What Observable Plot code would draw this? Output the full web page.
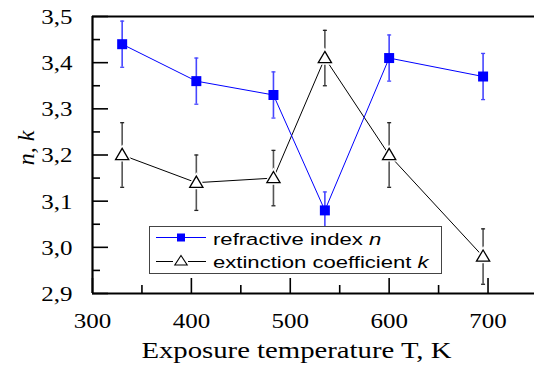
<!DOCTYPE html>
<html><head><meta charset="utf-8">
<script src="https://cdn.jsdelivr.net/npm/d3@7"></script>
<script src="https://cdn.jsdelivr.net/npm/@observablehq/plot@0.6"></script>
<style>
body{margin:0;background:#fff;}
#wrap{position:relative;width:534px;height:365px;overflow:hidden;}
#legend{position:absolute;left:0;top:0;pointer-events:none;}
</style></head><body>
<div id="wrap"></div>
<script>
// ---- data ----
const temperature = [330, 405, 483, 535, 600, 695];
const nValues = [3.44, 3.36, 3.33, 3.08, 3.41, 3.37];
const nErrors = [0.05, 0.05, 0.05, 0.04, 0.05, 0.05];
const kValues = [3.20, 3.14, 3.15, 3.41, 3.20, 2.98];
const kErrors = [0.07, 0.06, 0.06, 0.06, 0.07, 0.06];
const xTickValues = [300, 400, 500, 600, 700];
const xMinorTicks = [350, 450, 550, 650];
const yTickValues = [2.9, 3.0, 3.1, 3.2, 3.3, 3.4, 3.5];
const yMinorTicks = [2.95, 3.05, 3.15, 3.25, 3.35, 3.45];
const xLabel = "Exposure temperature T, K";
const yLabel = "n, k";
const legendLabels = [["refractive index ", "n"], ["extinction coefficient ", "k"]];

const nData = temperature.map((t, i) => ({t, v: nValues[i], e: nErrors[i]}));
const kData = temperature.map((t, i) => ({t, v: kValues[i], e: kErrors[i]}));

// ---- layout ----
const W = 534, H = 365, mL = 92, mT = 16, mB = 72, mR = 0;
const frameW = W - mL - mR, frameH = H - mT - mB;
const SX = 1.25; // horizontal text stretch seen in the reference

const squareSym = {draw(ctx) { ctx.rect(-5, -5, 10, 10); }};
const triSym = {draw(ctx) { ctx.moveTo(0, -6.6); ctx.lineTo(6.6, 4.6); ctx.lineTo(-6.6, 4.6); ctx.closePath(); }};
const capSym = {draw(ctx) { ctx.moveTo(-2, 0); ctx.lineTo(2, 0); }};

const blue = "#0000ff", blueErr = "#4646ff", grayErr = "#555555";

const svg = Plot.plot({
  width: W, height: H,
  marginLeft: mL, marginTop: mT, marginBottom: mB, marginRight: mR,
  style: {fontFamily: "'Liberation Serif', 'Times New Roman', serif", fontSize: "20px", color: "#000", background: "#fff"},
  x: {domain: [300, 747], label: null},
  y: {domain: [2.9, 3.5], label: null},
  marks: [
    // ticks (inward)
    Plot.tickX(xTickValues, {x: d => d, insetTop: frameH - 15, strokeWidth: 1.6, stroke: "#000"}),
    Plot.tickX(xMinorTicks, {x: d => d, insetTop: frameH - 8, strokeWidth: 1.6, stroke: "#000"}),
    Plot.tickY(yTickValues, {y: d => d, insetRight: frameW - 16, strokeWidth: 1.6, stroke: "#000"}),
    Plot.tickY(yMinorTicks, {y: d => d, insetRight: frameW - 8, strokeWidth: 1.6, stroke: "#000"}),
    // frame
    Plot.ruleX([300], {strokeWidth: 2.2, stroke: "#000"}),
    Plot.ruleY([2.9, 3.5], {strokeWidth: 2.2, stroke: "#000"}),
    // axes labels
    Plot.axisX({ticks: xTickValues, tickSize: 0, tickPadding: 20, tickFormat: d => String(d), label: null}),
    Plot.axisY({ticks: yTickValues, tickSize: 0, tickPadding: 20, dy: 1, tickFormat: d => d.toFixed(1).replace(".", ","), label: null}),
    Plot.text([xLabel], {frameAnchor: "bottom", lineAnchor: "bottom", dy: 64, dx: -17, fontSize: 23}),
    // error bars
    Plot.ruleX(kData, {x: "t", y1: d => d.v - d.e, y2: d => d.v + d.e, stroke: grayErr, strokeWidth: 1.6}),
    Plot.dot(kData, {x: "t", y: d => d.v - d.e, symbol: capSym, r: 3, stroke: "#222", fill: "none", strokeWidth: 1.3}),
    Plot.dot(kData, {x: "t", y: d => d.v + d.e, symbol: capSym, r: 3, stroke: "#222", fill: "none", strokeWidth: 1.3}),
    Plot.ruleX(nData, {x: "t", y1: d => d.v - d.e, y2: d => d.v + d.e, stroke: blueErr, strokeWidth: 1.6}),
    Plot.dot(nData, {x: "t", y: d => d.v - d.e, symbol: capSym, r: 3, stroke: blueErr, fill: "none", strokeWidth: 1.3}),
    Plot.dot(nData, {x: "t", y: d => d.v + d.e, symbol: capSym, r: 3, stroke: blueErr, fill: "none", strokeWidth: 1.3}),
    // lines
    Plot.line(kData, {x: "t", y: "v", stroke: "#000", strokeWidth: 1}),
    Plot.line(nData, {x: "t", y: "v", stroke: blue, strokeWidth: 1}),
    // markers
    Plot.dot(kData, {x: "t", y: "v", symbol: triSym, r: 5, fill: "#fff", stroke: "#fff", strokeWidth: 4}),
    Plot.dot(kData, {x: "t", y: "v", symbol: triSym, r: 5, fill: "#fff", stroke: "#000", strokeWidth: 1.3}),
    Plot.dot(nData, {x: "t", y: "v", symbol: squareSym, r: 5, fill: blue, stroke: "none"})
  ]
});

const wrap = document.getElementById("wrap");
wrap.append(svg);

// horizontal stretch of the text, like the reference
svg.querySelectorAll("text").forEach(t => {
  const tr = t.getAttribute("transform") || "";
  if (tr.includes("rotate")) return;
  const bb = t.getBBox();
  const anchor = getComputedStyle(t).textAnchor;
  const ax = anchor === "end" ? bb.x + bb.width : anchor === "middle" ? bb.x + bb.width / 2 : bb.x;
  t.setAttribute("transform", `${tr} translate(${ax},0) scale(${SX},1) translate(${-ax},0)`);
});

// overlay: y-axis title and legend box
const lg = d3.select(wrap).append("svg").attr("id", "legend").attr("width", W).attr("height", H);
lg.append("text").attr("transform", "translate(34,148) rotate(-90)")
  .attr("text-anchor", "middle").attr("font-family", "'Liberation Serif', 'Times New Roman', serif")
  .attr("font-size", 24).attr("font-style", "italic").attr("fill", "#000").text(yLabel);

lg.append("rect").attr("x", 149.5).attr("y", 226.5).attr("width", 292).attr("height", 47)
  .attr("fill", "#fff").attr("stroke", "#444").attr("stroke-width", 1);
// row 1
lg.append("line").attr("x1", 156).attr("x2", 206).attr("y1", 237.5).attr("y2", 237.5).attr("stroke", blue).attr("stroke-width", 1);
lg.append("rect").attr("x", 177).attr("y", 233.5).attr("width", 8).attr("height", 8).attr("fill", blue);
// row 2
lg.append("line").attr("x1", 156).attr("x2", 173).attr("y1", 261.5).attr("y2", 261.5).attr("stroke", "#000").attr("stroke-width", 1);
lg.append("line").attr("x1", 188).attr("x2", 206).attr("y1", 261.5).attr("y2", 261.5).attr("stroke", "#000").attr("stroke-width", 1);
lg.append("path").attr("d", "M181,255.5 L187.2,265 L174.8,265 Z").attr("fill", "#fff").attr("stroke", "#000").attr("stroke-width", 1.1);
const baselines = [245, 268];
legendLabels.forEach((lab, i) => {
  const tx = lg.append("text").attr("x", 213).attr("y", baselines[i])
    .attr("font-family", "'Liberation Sans', Arial, sans-serif").attr("font-size", 17).attr("fill", "#000")
    .attr("transform", `translate(213,0) scale(1.3,1) translate(-213,0)`);
  tx.append("tspan").text(lab[0]);
  tx.append("tspan").attr("font-style", "italic").text(lab[1]);
});
</script>
</body></html>
